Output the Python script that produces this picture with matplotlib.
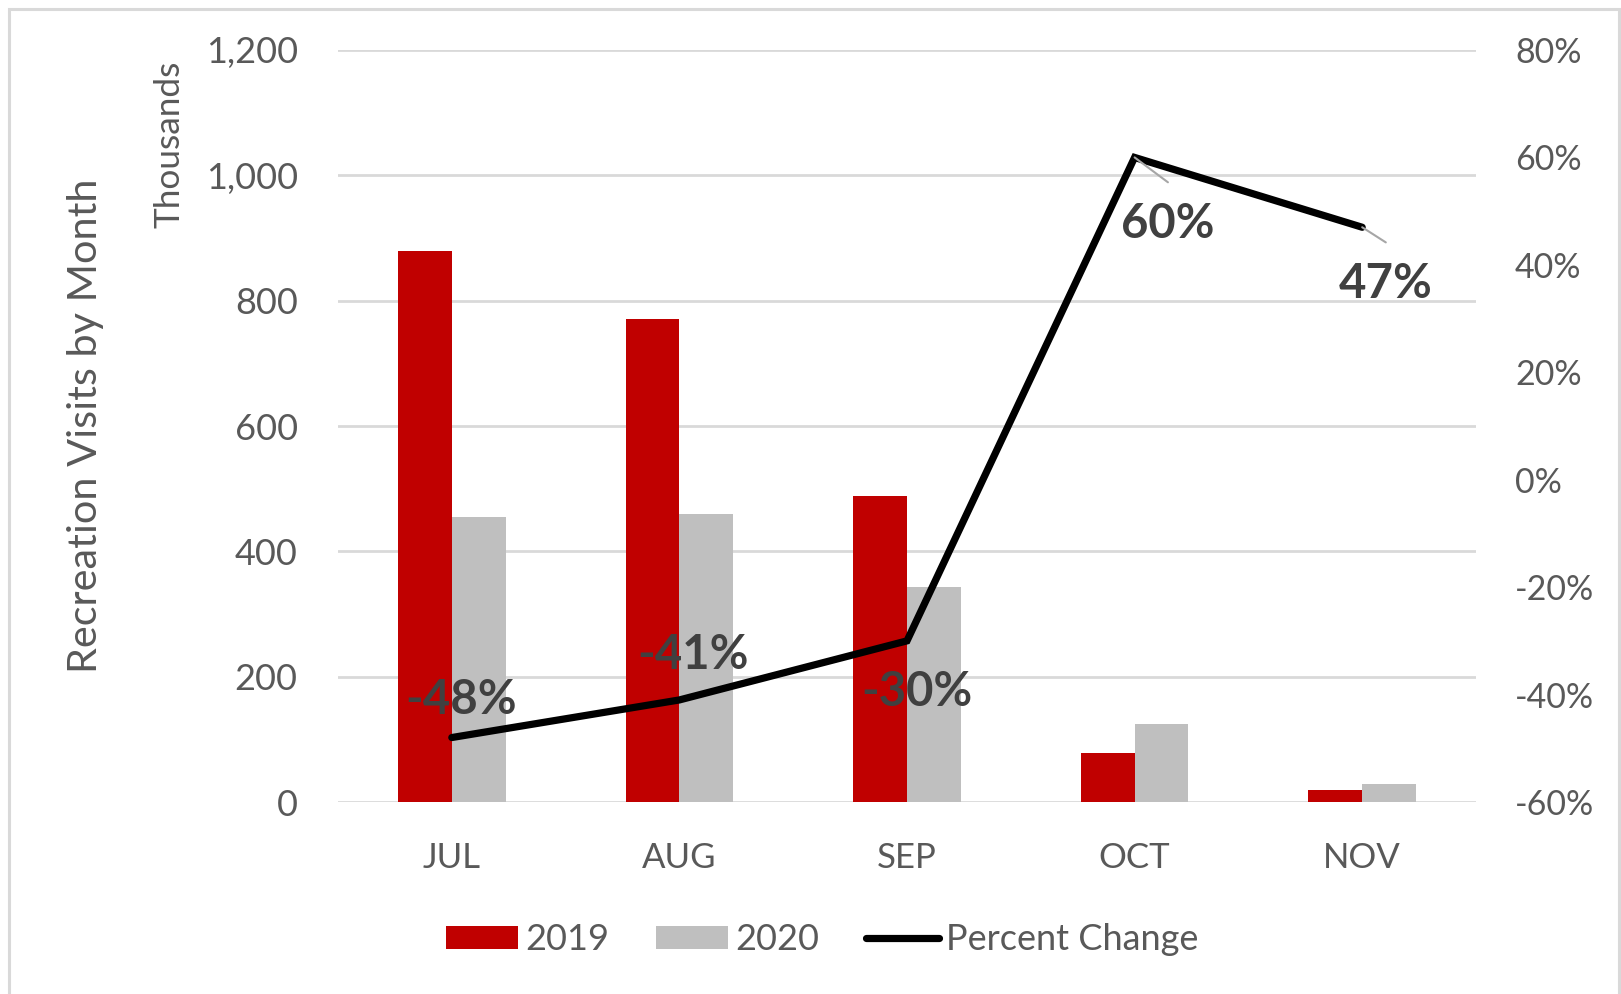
import numpy as np
import matplotlib
matplotlib.use("Agg")
import matplotlib.pyplot as plt
from matplotlib.patches import Rectangle
from matplotlib.ticker import FuncFormatter, FixedLocator

months = ["JUL", "AUG", "SEP", "OCT", "NOV"]
visits_2019 = [880, 770, 488, 78, 19]
visits_2020 = [455, 460, 343, 125, 28]
pct_change = [-0.48, -0.41, -0.30, 0.60, 0.47]
pct_labels = ["-48%", "-41%", "-30%", "60%", "47%"]

RED = "#C00000"
GRAY = "#BFBFBF"
GRID = "#D9D9D9"
TICK = "#595959"
LABEL = "#404040"

plt.rcParams["font.family"] = ["Lato", "DejaVu Sans"]

W, H = 1621, 994
fig = plt.figure(figsize=(W / 100, H / 100), dpi=100)
ax = fig.add_axes([338 / W, 1 - 802 / H, (1476 - 338) / W, (802 - 50) / H])

x = np.arange(len(months))
w = 0.236
ax.bar(x - w / 2, visits_2019, w, color=RED, label="2019", zorder=2)
ax.bar(x + w / 2, visits_2020, w, color=GRAY, label="2020", zorder=2)

ax.set_xlim(-0.5, len(months) - 0.5)
ax.set_ylim(0, 1200)
ax.yaxis.set_major_locator(FixedLocator(np.arange(0, 1201, 200)))
ax.yaxis.set_major_formatter(FuncFormatter(lambda v, p: f"{int(v):,}"))
ax.grid(axis="y", color=GRID, lw=2, zorder=0)
ax.set_axisbelow(True)
for s in ax.spines.values():
    s.set_visible(False)
ax.set_xticks(x)
ax.set_xticklabels(months)
ax.tick_params(axis="x", length=0, pad=29, labelsize=25, labelcolor=TICK)
ax.tick_params(axis="y", length=0, pad=29, labelsize=26, labelcolor=TICK)

ax2 = ax.twinx()
ax2.set_ylim(-0.60, 0.80)
ax2.yaxis.set_major_locator(FixedLocator(np.arange(-0.6, 0.81, 0.2)))
ax2.yaxis.set_major_formatter(FuncFormatter(lambda v, p: f"{round(v * 100):d}%"))
for s in ax2.spines.values():
    s.set_visible(False)
ax2.tick_params(axis="y", length=0, pad=28, labelsize=24.5, labelcolor=TICK)
line, = ax2.plot(x, pct_change, color="black", lw=5.2, solid_capstyle="round",
                 solid_joinstyle="miter", label="Percent Change", zorder=3)

# data labels for the percent change line
offsets = [(7, 27), (10, 32), (7, -37), (24, -48), (17, -41)]
leaders = [False, False, False, True, True]
for xi, val, txt, off, lead in zip(x, pct_change, pct_labels, offsets, leaders):
    kw = {}
    if lead:
        kw["arrowprops"] = dict(arrowstyle="-", color="#A6A6A6", lw=1.5,
                                relpos=(0.5, 1.45), shrinkA=0, shrinkB=0)
    ax2.annotate(txt, (xi, val), xytext=off, textcoords="offset points",
                 ha="center", va="center", fontsize=34, fontweight="bold",
                 color=LABEL, zorder=4, **kw)

fig.text(86 / W, 1 - 426 / H, "Recreation Visits by Month", rotation=90,
         ha="center", va="center", fontsize=29.8, color=TICK)
fig.text(170 / W, 1 - 61 / H, "Thousands", rotation=90,
         ha="center", va="top", fontsize=25.4, color=TICK)

handles = [ax.containers[0], ax.containers[1], line]
fig.legend(handles, ["2019", "2020", "Percent Change"], loc="center",
           bbox_to_anchor=(822 / W, 1 - 940 / H), ncol=3, frameon=False,
           fontsize=26, labelcolor=TICK, handlelength=2.0, handleheight=0.6,
           handletextpad=0.2, columnspacing=1.3)

fig.add_artist(Rectangle((8.5 / W, -0.05), (1619 - 8.5) / W, 1.05 - 8.5 / H,
                         transform=fig.transFigure, fill=False,
                         edgecolor=GRID, lw=2.2))

fig.savefig("out.png", dpi=100)
